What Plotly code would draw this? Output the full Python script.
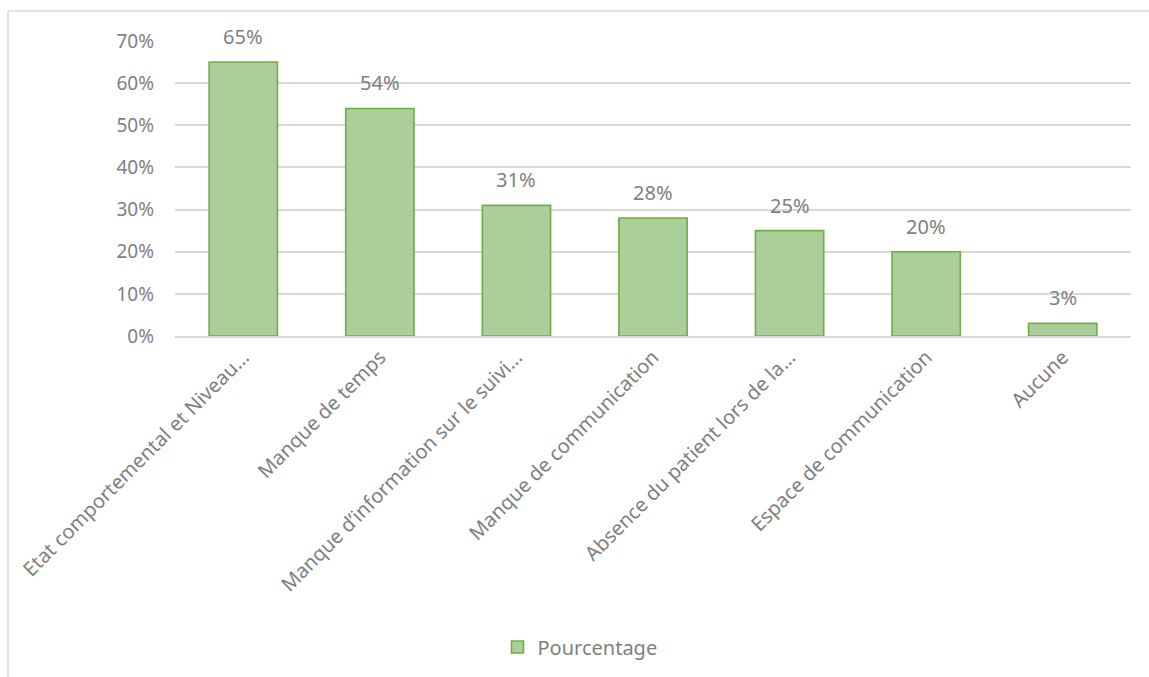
import plotly.graph_objects as go

categories = [
    "Etat comportemental et Niveau…",
    "Manque de temps",
    "Manque d’information sur le suivi…",
    "Manque de communication",
    "Absence du patient lors de la…",
    "Espace de communication",
    "Aucune",
]
pourcentage = [0.65, 0.54, 0.31, 0.28, 0.25, 0.20, 0.03]
series_name = "Pourcentage"

TEXT = "#7f7f7f"
FONT = "Noto Sans"

fig = go.Figure()
fig.add_trace(go.Bar(
    x=categories,
    y=pourcentage,
    name=series_name,
    marker=dict(color="#aacf9a", line=dict(color="#70ad47", width=1.6)),
    width=0.5,
))

# value labels above each bar
for cat, v in zip(categories, pourcentage):
    fig.add_annotation(
        x=cat, y=v, text=f"{v:.0%}", showarrow=False,
        yanchor="bottom", yshift=10,
        font=dict(family=FONT, size=20, color=TEXT),
    )

W, H = 1149, 677
ml, mr, mt, mb = 175, 18, 41, 340
pw, ph = W - ml - mr, H - mt - mb

def px_x(x):
    return (x - ml) / pw

def px_y(y):
    return (H - mb - y) / ph

fig.update_layout(
    width=W, height=H,
    margin=dict(l=ml, r=mr, t=mt, b=mb),
    paper_bgcolor="white", plot_bgcolor="white",
    font=dict(family=FONT, color=TEXT),
    showlegend=True,
    legend=dict(
        orientation="h", x=px_x(580), y=px_y(647),
        xanchor="center", yanchor="middle",
        font=dict(family=FONT, size=20, color=TEXT),
    ),
    shapes=[
        dict(type="line", xref="paper", yref="paper",
             x0=px_x(8), x1=px_x(W + 5), y0=px_y(11), y1=px_y(11),
             line=dict(color="#d9d9d9", width=1.5)),
        dict(type="line", xref="paper", yref="paper",
             x0=px_x(8), x1=px_x(8), y0=px_y(11), y1=px_y(H + 5),
             line=dict(color="#d9d9d9", width=1.5)),
    ],
)
fig.update_xaxes(
    tickangle=-45,
    tickfont=dict(family=FONT, size=20, color=TEXT),
    showgrid=False, showline=True, linecolor="#d9d9d9", linewidth=1.5,
    ticks="",
)
fig.update_yaxes(
    range=[0, 0.7], dtick=0.1, tickformat=".0%",
    tickfont=dict(family=FONT, size=19, color=TEXT),
    showgrid=True, gridcolor="#d9d9d9", gridwidth=1.5,
    zeroline=False, showline=False, ticks="", ticklabelstandoff=20,
)

fig.write_html("out.html")
